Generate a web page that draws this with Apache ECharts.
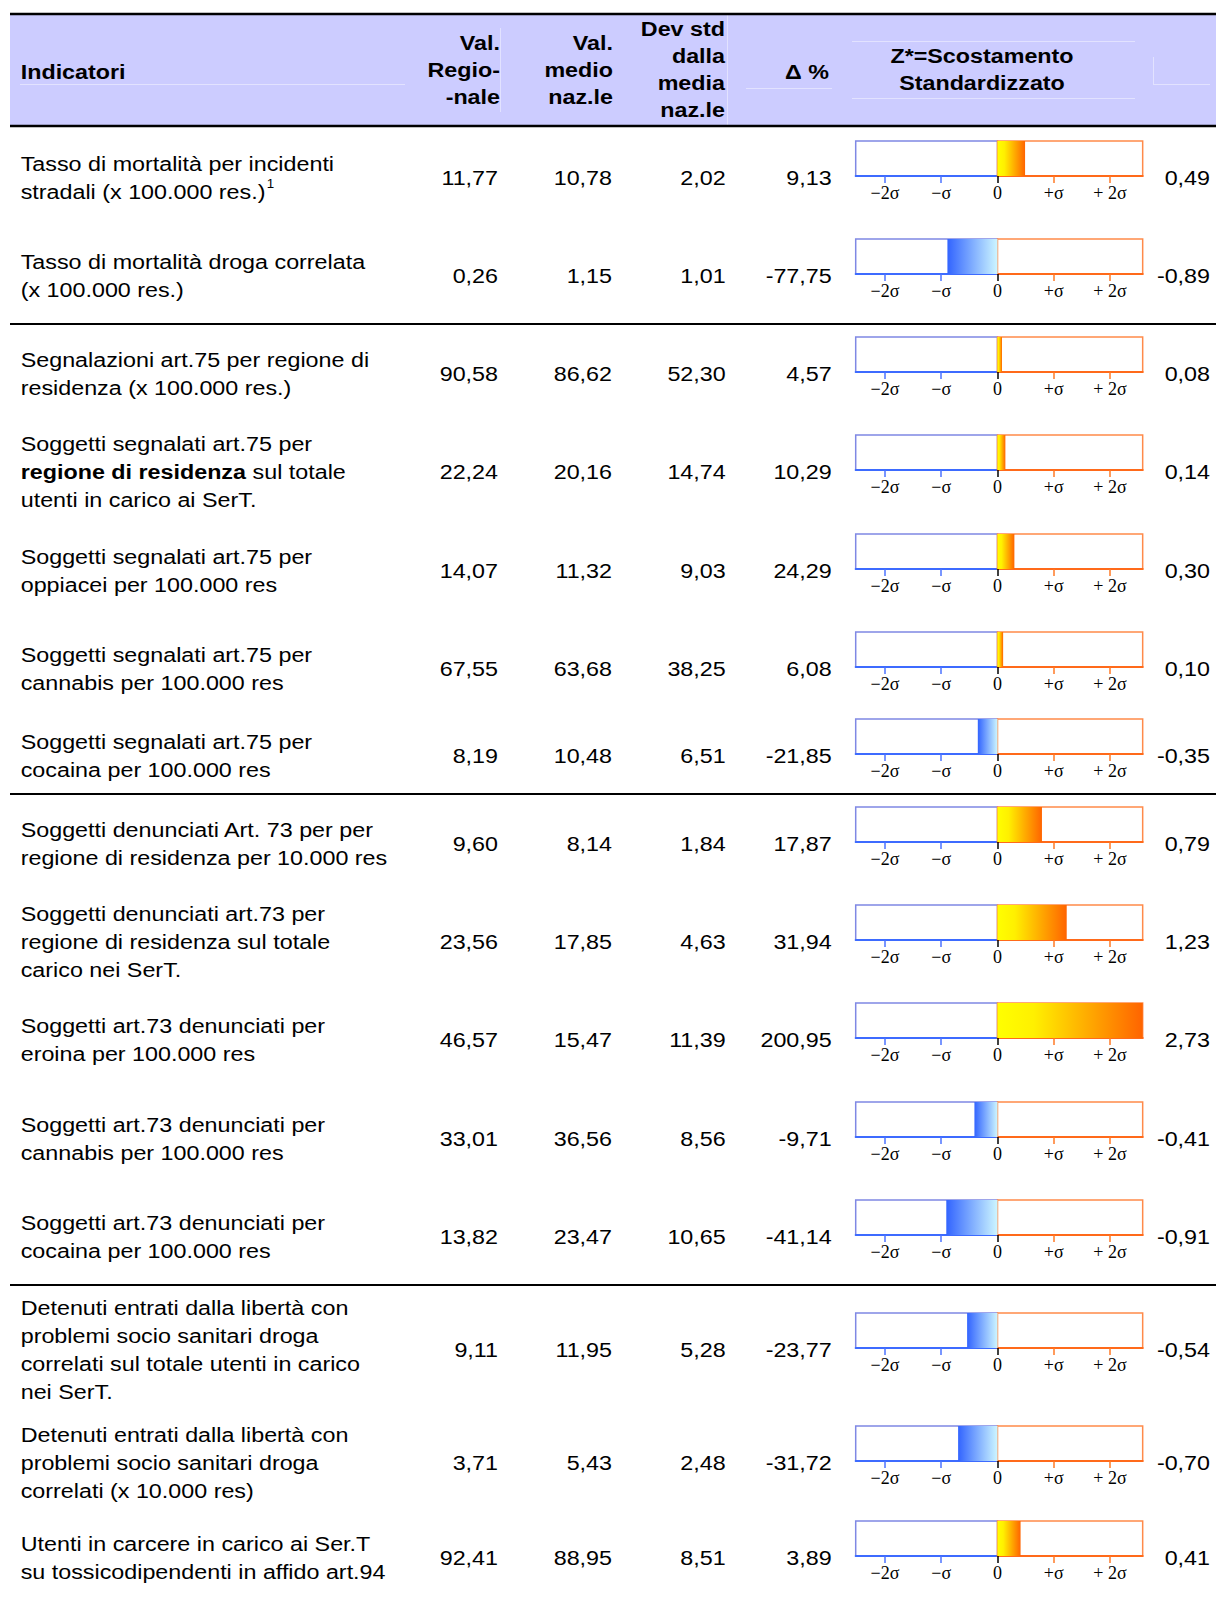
<!DOCTYPE html>
<html>
<head>
<meta charset="utf-8">
<script src="https://cdn.jsdelivr.net/npm/echarts@6/dist/echarts.min.js"></script>
<style>
  html, body { margin: 0; padding: 0; background: #ffffff; }
  #main { width: 1216px; height: 1598px; }
</style>
</head>
<body>
<div id="main"></div>
<script>
// ---- Data ----
const indicators = [
  'Tasso di mortalità per incidenti\nstradali (x 100.000 res.){sup|1}',
  'Tasso di mortalità droga correlata\n(x 100.000 res.)',
  'Segnalazioni art.75 per regione di\nresidenza (x 100.000 res.)',
  'Soggetti segnalati art.75 per\n{b|regione di residenza} sul totale\nutenti in carico ai SerT.',
  'Soggetti segnalati art.75 per\noppiacei per 100.000 res',
  'Soggetti segnalati art.75 per\ncannabis per 100.000 res',
  'Soggetti segnalati art.75 per\ncocaina per 100.000 res',
  'Soggetti denunciati Art. 73 per per\nregione di residenza per 10.000 res',
  'Soggetti denunciati art.73 per\nregione di residenza sul totale\ncarico nei SerT.',
  'Soggetti art.73 denunciati per\neroina per 100.000 res',
  'Soggetti art.73 denunciati per\ncannabis per 100.000 res',
  'Soggetti art.73 denunciati per\ncocaina per 100.000 res',
  'Detenuti entrati dalla libertà con\nproblemi socio sanitari droga\ncorrelati sul totale utenti in carico\nnei SerT.',
  'Detenuti entrati dalla libertà con\nproblemi socio sanitari droga\ncorrelati (x 10.000 res)',
  'Utenti in carcere in carico ai Ser.T\nsu tossicodipendenti in affido art.94'
];
const valRegionale = [11.77, 0.26, 90.58, 22.24, 14.07, 67.55, 8.19, 9.60, 23.56, 46.57, 33.01, 13.82, 9.11, 3.71, 92.41];
const valMedioNaz  = [10.78, 1.15, 86.62, 20.16, 11.32, 63.68, 10.48, 8.14, 17.85, 15.47, 36.56, 23.47, 11.95, 5.43, 88.95];
const devStdNaz    = [2.02, 1.01, 52.30, 14.74, 9.03, 38.25, 6.51, 1.84, 4.63, 11.39, 8.56, 10.65, 5.28, 2.48, 8.51];
const deltaPct     = [9.13, -77.75, 4.57, 10.29, 24.29, 6.08, -21.85, 17.87, 31.94, 200.95, -9.71, -41.14, -23.77, -31.72, 3.89];
const zScore       = [0.49, -0.89, 0.08, 0.14, 0.30, 0.10, -0.35, 0.79, 1.23, 2.73, -0.41, -0.91, -0.54, -0.70, 0.41];

const sigmaTicksNeg = [-2, -1];
const sigmaTicksPos = [1, 2];
const sigmaTickLabels = { '-2': '\u22122\u03c3', '-1': '\u2212\u03c3', '0': '0', '1': '+\u03c3', '2': '+ 2\u03c3' };

const headerTexts = {
  indicatori: 'Indicatori',
  regionale: 'Val.\nRegio-\n-nale',
  medio: 'Val.\nmedio\nnaz.le',
  devstd: 'Dev std\ndalla\nmedia\nnaz.le',
  delta: '\u0394 %',
  zeta: 'Z*=Scostamento\nStandardizzato'
};

// ---- Layout ----
const rowCenters = [178, 276, 374, 472, 571, 669, 756, 844, 942, 1040, 1139, 1237, 1350, 1463, 1558];
const sectionRules = [324, 794, 1285];
const FONT = '"Liberation Sans", Arial, sans-serif';
const SERIF = '"Liberation Serif", "Times New Roman", serif';
const SX = 1.11;               // horizontal stretch of the table typography
const Z_MIN = -2.52, Z_MAX = 2.58;
const PX_PER_SIGMA = 56.27;
const BOX_LEFT = 855.7;
const ZERO_X = BOX_LEFT - Z_MIN * PX_PER_SIGMA;
const BOX_H = 35;
const colRight = [498, 612, 725.7, 831.7];
const zLabelRight = 1210;

const fmt = v => v.toFixed(2).replace('.', ',');

function textEl(x, y, text, extra) {
  const style = Object.assign({
    text: text, fill: '#000', fontSize: 21, fontFamily: FONT,
    align: 'left', textAlign: 'left', verticalAlign: 'middle', textVerticalAlign: 'middle',
    lineHeight: 28
  }, extra || {});
  if (style.align) style.textAlign = style.align;
  return { type: 'text', x: x, y: y, scaleX: SX, silent: true, z: 10, style: style };
}
function lineEl(x1, y1, x2, y2, color, w) {
  return { type: 'line', silent: true, z: 5, shape: { x1, y1, x2, y2 }, style: { stroke: color, lineWidth: w } };
}

const graphics = [];
// header band
graphics.push({ type: 'rect', silent: true, z: 1, shape: { x: 10, y: 14, width: 1206, height: 112 }, style: { fill: '#ccccff' } });
// faint cell rules inside the header
const faint = '#e2e2ff';
graphics.push(lineEl(20, 84.5, 405, 84.5, faint, 1));
graphics.push(lineEl(500.5, 28, 500.5, 112, faint, 1));
graphics.push(lineEl(727.5, 15, 727.5, 125, faint, 1));
graphics.push(lineEl(746, 88.5, 832, 88.5, faint, 1));
graphics.push(lineEl(852, 41.5, 1135, 41.5, faint, 1));
graphics.push(lineEl(852, 98.5, 1135, 98.5, faint, 1));
graphics.push(lineEl(1153.5, 57, 1153.5, 84, faint, 1));
graphics.push(lineEl(1153, 84.5, 1210, 84.5, faint, 1));
// header frame
graphics.push(lineEl(10, 14, 1216, 14, '#000', 2.5));
graphics.push(lineEl(10, 126, 1216, 126, '#000', 2.5));
sectionRules.forEach(y => graphics.push(lineEl(10, y, 1216, y, '#000', 2)));

// header captions
const hb = { fontWeight: 'bold', lineHeight: 27 };
graphics.push(textEl(20.7, 71.7, headerTexts.indicatori, hb));
graphics.push(textEl(500, 70, headerTexts.regionale, Object.assign({ align: 'right' }, hb)));
graphics.push(textEl(613, 70, headerTexts.medio, Object.assign({ align: 'right' }, hb)));
graphics.push(textEl(725, 69.3, headerTexts.devstd, Object.assign({ align: 'right', lineHeight: 27.3 }, hb)));
graphics.push(textEl(829, 71.7, headerTexts.delta, Object.assign({ align: 'right' }, hb)));
graphics.push(textEl(982, 69.5, headerTexts.zeta, Object.assign({ align: 'center' }, hb)));

// body rows
const rich = {
  b: { fontWeight: 'bold', fontSize: 21, fontFamily: FONT, lineHeight: 28, fill: '#000' },
  sup: { fontSize: 12, fontFamily: FONT, lineHeight: 16, verticalAlign: 'top', fill: '#000', padding: [0, 0, 0, 1] }
};
rowCenters.forEach((cy, i) => {
  graphics.push(textEl(20.7, cy, indicators[i], { rich: rich }));
  graphics.push(textEl(colRight[0], cy, fmt(valRegionale[i]), { align: 'right' }));
  graphics.push(textEl(colRight[1], cy, fmt(valMedioNaz[i]), { align: 'right' }));
  graphics.push(textEl(colRight[2], cy, fmt(devStdNaz[i]), { align: 'right' }));
  graphics.push(textEl(colRight[3], cy, fmt(deltaPct[i]), { align: 'right' }));
  graphics.push(textEl(zLabelRight, cy, fmt(zScore[i]), { align: 'right' }));
});

// ---- Standardised deviation gauges: a blue half (negative) and an orange half (positive) per row ----
const grids = [], xAxes = [], yAxes = [], series = [];
const posFill = new echarts.graphic.LinearGradient(0, 0, 1, 0, [
  { offset: 0, color: '#ffff00' }, { offset: 0.25, color: '#fff000' }, { offset: 1, color: '#ff6400' }
]);
const negFill = new echarts.graphic.LinearGradient(0, 0, 1, 0, [
  { offset: 0, color: '#3264ff' }, { offset: 1, color: '#cdf6ff' }
]);
const tickLabel = {
  fontFamily: SERIF, fontSize: 18, color: '#000', margin: 8,
  formatter: v => sigmaTickLabels[String(Math.round(v))] || ''
};

rowCenters.forEach((cy, i) => {
  const top = cy - 37;
  const gL = grids.length, gR = gL + 1;
  grids.push({ left: BOX_LEFT, top: top, width: (0 - Z_MIN) * PX_PER_SIGMA, height: BOX_H,
    show: true, backgroundColor: '#fff', borderColor: '#7f88e4', borderWidth: 1.5 });
  grids.push({ left: ZERO_X, top: top, width: Z_MAX * PX_PER_SIGMA, height: BOX_H,
    show: true, backgroundColor: '#fff', borderColor: '#ff8a4a', borderWidth: 1.5 });

  const xL = xAxes.length;
  xAxes.push({
    gridIndex: gL, type: 'value', min: Z_MIN, max: 0, position: 'bottom',
    axisLine: { show: true, lineStyle: { color: '#3d6bff', width: 2 } },
    axisTick: { show: true, customValues: sigmaTicksNeg, length: 7, lineStyle: { color: '#4d73ff', width: 1.5 } },
    axisLabel: Object.assign({ customValues: sigmaTicksNeg }, tickLabel),
    splitLine: { show: false }
  });
  const xR = xAxes.length;
  xAxes.push({
    gridIndex: gR, type: 'value', min: 0, max: Z_MAX, position: 'bottom',
    axisLine: { show: true, lineStyle: { color: '#ff6a1a', width: 2 } },
    axisTick: { show: true, customValues: sigmaTicksPos, length: 7, lineStyle: { color: '#ff7a26', width: 1.5 } },
    axisLabel: Object.assign({ customValues: sigmaTicksPos }, tickLabel),
    splitLine: { show: false }
  });
  xAxes.push({
    gridIndex: gR, type: 'value', min: 0, max: Z_MAX, position: 'bottom',
    axisLine: { show: false },
    axisTick: { show: true, customValues: [0], length: 7, lineStyle: { color: '#000', width: 1.5 } },
    axisLabel: Object.assign({ customValues: [0] }, tickLabel),
    splitLine: { show: false }
  });

  yAxes.push({ gridIndex: gL, type: 'category', data: ['z'], show: false });
  yAxes.push({ gridIndex: gR, type: 'category', data: ['z'], show: false });

  const z = zScore[i];
  series.push({
    type: 'bar', xAxisIndex: xL, yAxisIndex: gL, barWidth: '100%', clip: true, silent: true,
    data: [z < 0 ? z : '-'], itemStyle: { color: negFill }
  });
  series.push({
    type: 'bar', xAxisIndex: xR, yAxisIndex: gR, barWidth: '100%', clip: true, silent: true,
    data: [z > 0 ? z : '-'], itemStyle: { color: posFill }
  });
});

const chart = echarts.init(document.getElementById('main'), null, { renderer: 'svg' });
chart.setOption({
  backgroundColor: '#ffffff',
  animation: false,
  tooltip: { show: false },
  grid: grids,
  xAxis: xAxes,
  yAxis: yAxes,
  series: series,
  graphic: { elements: graphics }
});
</script>
</body>
</html>
